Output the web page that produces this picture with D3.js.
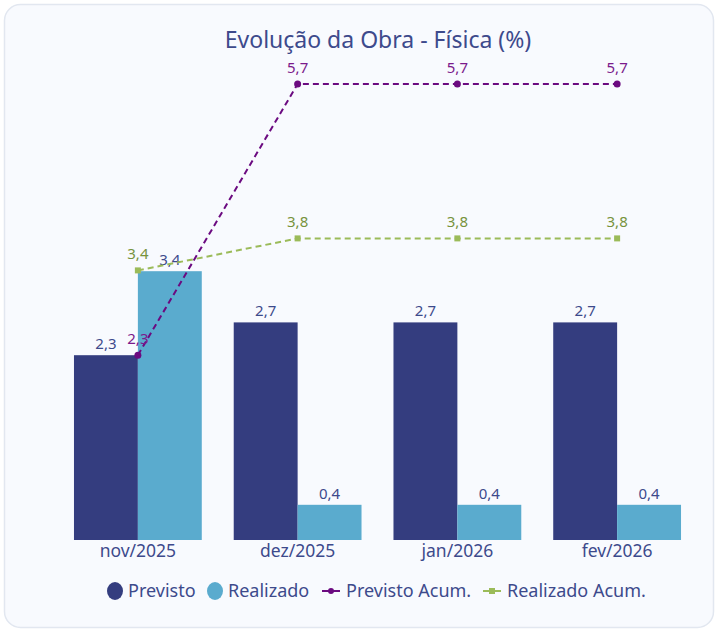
<!DOCTYPE html>
<html>
<head>
<meta charset="utf-8">
<script src="https://cdn.jsdelivr.net/npm/d3@7"></script>
<style>
  html, body { margin: 0; padding: 0; background: #ffffff; }
  svg { display: block; font-family: "Noto Sans", "Open Sans", sans-serif; }
</style>
</head>
<body>
<svg id="chart"></svg>
<script>
// data
const categories = ['nov/2025', 'dez/2025', 'jan/2026', 'fev/2026'];
const previsto = [2.31, 2.72, 2.72, 2.72];
const realizado = [3.36, 0.44, 0.44, 0.44];
const previstoAcum = [2.31, 5.70, 5.70, 5.70];
const realizadoAcum = [3.37, 3.77, 3.77, 3.77];
const seriesNames = ['Previsto', 'Realizado', 'Previsto Acum.', 'Realizado Acum.'];

const colors = {
  previsto: '#343d7f',
  realizado: '#5aabce',
  prevAcum: '#6b0a80',
  realAcum: '#9bbb59',
  text: '#3d4a8c'
};

const width = 716, height = 630;
const margin = { top: 60, right: 19, bottom: 90, left: 58 };

const svg = d3.select('#chart')
  .attr('width', width)
  .attr('height', height);

// card background
svg.append('rect')
  .attr('x', 4.5).attr('y', 4.5)
  .attr('width', width - 7).attr('height', height - 7)
  .attr('rx', 16)
  .attr('fill', '#f8fafe')
  .attr('stroke', '#e2e7f0')
  .attr('stroke-width', 1.5);

svg.append('text')
  .attr('x', 378).attr('y', 48)
  .attr('text-anchor', 'middle')
  .attr('fill', colors.text)
  .attr('font-size', '23px')
  .text('Evolução da Obra - Física (%)');

const x0 = d3.scaleBand()
  .domain(categories)
  .range([margin.left, width - margin.right])
  .paddingInner(0.2)
  .paddingOuter(0.1);

const x1 = d3.scaleBand()
  .domain(['Previsto', 'Realizado'])
  .range([0, x0.bandwidth()]);

const y = d3.scaleLinear()
  .domain([0, 6])
  .range([height - margin.bottom, margin.top]);

const fmt = v => v.toFixed(1).replace('.', ',');
const center = c => x0(c) + x0.bandwidth() / 2;

// bars
const barData = [];
categories.forEach((c, i) => {
  barData.push({ cat: c, key: 'Previsto', value: previsto[i], color: colors.previsto });
  barData.push({ cat: c, key: 'Realizado', value: realizado[i], color: colors.realizado });
});

svg.selectAll('.bar')
  .data(barData)
  .enter()
  .append('rect')
  .attr('class', 'bar')
  .attr('x', d => x0(d.cat) + x1(d.key))
  .attr('y', d => y(d.value))
  .attr('width', x1.bandwidth())
  .attr('height', d => y(0) - y(d.value))
  .attr('fill', d => d.color);

svg.selectAll('.bar-label')
  .data(barData)
  .enter()
  .append('text')
  .attr('class', 'bar-label')
  .attr('x', d => x0(d.cat) + x1(d.key) + x1.bandwidth() / 2)
  .attr('y', d => y(d.value) - 6)
  .attr('text-anchor', 'middle')
  .attr('fill', colors.text)
  .attr('font-size', '15px')
  .text(d => fmt(d.value));

// x axis (labels only)
const xAxis = svg.append('g')
  .attr('transform', 'translate(0,' + y(0) + ')')
  .call(d3.axisBottom(x0).tickSize(0).tickPadding(5));
xAxis.select('.domain').remove();
xAxis.selectAll('text')
  .attr('fill', colors.text)
  .attr('font-size', '17.5px')
  .attr('font-family', '"Noto Sans", "Open Sans", sans-serif');

// accumulated lines
function drawLine(values, color, labelColor, marker) {
  const pts = values.map((v, i) => ({ cat: categories[i], value: v }));
  const line = d3.line()
    .x(d => center(d.cat))
    .y(d => y(d.value));

  svg.append('path')
    .datum(pts)
    .attr('d', line)
    .attr('fill', 'none')
    .attr('stroke', color)
    .attr('stroke-width', 2)
    .attr('stroke-dasharray', '6,4');

  if (marker === 'circle') {
    svg.selectAll(null)
      .data(pts)
      .enter()
      .append('circle')
      .attr('cx', d => center(d.cat))
      .attr('cy', d => y(d.value))
      .attr('r', 3.5)
      .attr('fill', color);
  } else {
    svg.selectAll(null)
      .data(pts)
      .enter()
      .append('rect')
      .attr('x', d => center(d.cat) - 3)
      .attr('y', d => y(d.value) - 3)
      .attr('width', 6)
      .attr('height', 6)
      .attr('fill', color);
  }

  svg.selectAll(null)
    .data(pts)
    .enter()
    .append('text')
    .attr('x', d => center(d.cat))
    .attr('y', d => y(d.value) - 11)
    .attr('text-anchor', 'middle')
    .attr('fill', labelColor)
    .attr('font-size', '15px')
    .text(d => fmt(d.value));
}

drawLine(realizadoAcum, colors.realAcum, '#77933c', 'square');
drawLine(previstoAcum, colors.prevAcum, '#7b1a8c', 'circle');

// legend
const legend = svg.append('g').attr('transform', 'translate(0,591)');
const legendItems = [
  { name: seriesNames[0], type: 'dot', color: colors.previsto, x: 106 },
  { name: seriesNames[1], type: 'dot', color: colors.realizado, x: 206 },
  { name: seriesNames[2], type: 'line', color: colors.prevAcum, x: 322 },
  { name: seriesNames[3], type: 'line', color: colors.realAcum, x: 483 }
];

legendItems.forEach(it => {
  const g = legend.append('g').attr('transform', 'translate(' + it.x + ',0)');
  let tx;
  if (it.type === 'dot') {
    g.append('ellipse')
      .attr('cx', 9).attr('cy', 0)
      .attr('rx', 8).attr('ry', 9)
      .attr('fill', it.color);
    tx = 22;
  } else {
    g.append('line')
      .attr('x1', 0).attr('x2', 18)
      .attr('y1', 0).attr('y2', 0)
      .attr('stroke', it.color)
      .attr('stroke-width', 2);
    if (it.color === colors.prevAcum) {
      g.append('circle').attr('cx', 9).attr('cy', 0).attr('r', 3).attr('fill', it.color);
    } else {
      g.append('rect').attr('x', 6).attr('y', -3).attr('width', 6).attr('height', 6).attr('fill', it.color);
    }
    tx = 24;
  }
  g.append('text')
    .attr('x', tx).attr('y', 0)
    .attr('dy', '0.35em')
    .attr('fill', colors.text)
    .attr('font-size', '18px')
    .text(it.name);
});
</script>
</body>
</html>
